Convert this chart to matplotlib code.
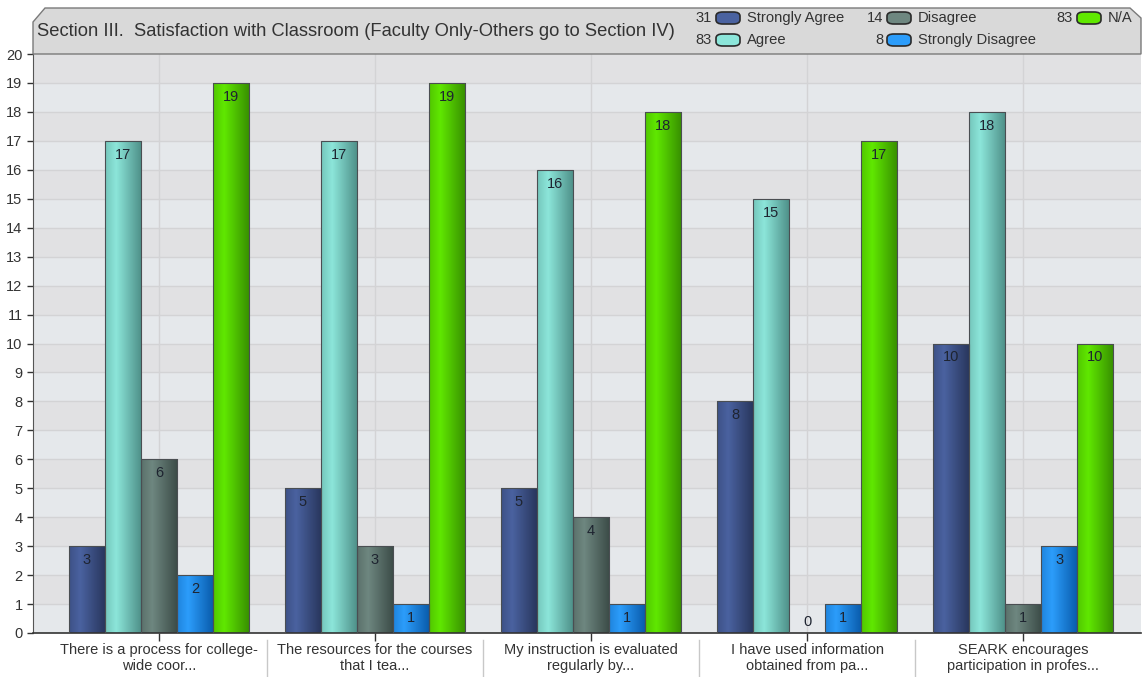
import numpy as np
import matplotlib
matplotlib.use('Agg')
import matplotlib.pyplot as plt
from matplotlib.patches import Polygon, FancyBboxPatch, Rectangle
from matplotlib.colors import to_rgb

plt.rcParams['font.family'] = ['Liberation Sans', 'DejaVu Sans']

categories = ['There is a process for college-\nwide coor...',
              'The resources for the courses\nthat I tea...',
              'My instruction is evaluated\nregularly by...',
              'I have used information\nobtained from pa...',
              'SEARK encourages\nparticipation in profes...']
series = ['Strongly Agree', 'Agree', 'Disagree', 'Strongly Disagree', 'N/A']
strongly_agree = [3, 5, 5, 8, 10]
agree = [17, 17, 16, 15, 18]
disagree = [6, 3, 4, 0, 1]
strongly_disagree = [2, 1, 1, 1, 3]
na = [19, 19, 18, 17, 10]
values = [strongly_agree, agree, disagree, strongly_disagree, na]

# light / dark colour per series for the cylinder shading
light = ['#4a62a0', '#8ce6da', '#6e8780', '#2c9dfb', '#60e800']
dark = ['#263358', '#4a8a83', '#384844', '#0757a6', '#358a00']

W, H = 1143, 677
fig = plt.figure(figsize=(W / 100, H / 100), dpi=100)
ax = fig.add_axes([33 / W, 1 - 633 / H, 1108 / W, (633 - 54) / H])

ax.set_xlim(-0.583, 4.546)
ax.set_ylim(0, 20)

# alternating background bands
for k in range(20):
    ax.axhspan(k, k + 1, color='#e5e8eb' if k % 2 == 0 else '#e1e1e3', zorder=0, lw=0)
for k in range(1, 20):
    ax.axhline(k, color='#d3d3d5', lw=1, zorder=0.5)
for i in range(len(categories)):
    ax.axvline(i, color='#d3d3d5', lw=1, zorder=0.5)


def shade(c1, c2, n=60):
    t = np.linspace(0, 1, n)
    f = np.where(t < 0.3, 0.65 + t / 0.3 * 0.35, 1.0 - (t - 0.3) / 0.7 * 0.95)
    a, b = np.array(to_rgb(c1)), np.array(to_rgb(c2))
    return (b[None, :] + f[:, None] * (a - b)[None, :])[None, :, :]


bw = 1 / 6
x = np.arange(len(categories))
for s, vals in enumerate(values):
    grad = shade(light[s], dark[s])
    for i, v in enumerate(vals):
        x0 = x[i] + (s - 2) * bw - bw / 2
        if v > 0:
            rect = Rectangle((x0, 0), bw, v, facecolor='none', edgecolor='#4a4e52',
                             lw=0.8, zorder=3)
            ax.add_patch(rect)
            im = ax.imshow(grad, extent=(x0, x0 + bw, 0, v), aspect='auto', zorder=2,
                           interpolation='bilinear')
            im.set_clip_path(rect)
        ax.text(x0 + bw / 2, max(v - 0.48, 0.38), str(v), ha='center', va='center',
                fontsize=10.5, color='#1e2430', zorder=4)

ax.set_xlim(-0.583, 4.546)
ax.set_ylim(0, 20)
ax.set_yticks(range(0, 21))
ax.set_xticks(x)
ax.set_xticklabels([])
ax.tick_params(axis='y', labelsize=10.5, colors='#333333', length=4, width=1)
ax.tick_params(axis='x', length=6, width=1, colors='#333333')
for sp in ['top', 'right']:
    ax.spines[sp].set_visible(False)
ax.spines['left'].set_color('#555555')
ax.spines['bottom'].set_color('#333333')
ax.spines['bottom'].set_linewidth(1.2)

# category labels and separators
for i, lab in enumerate(categories):
    cx = (33 + (i + 0.583) * 1108 / 5.129) / W
    fig.text(cx, 1 - 658 / H, lab, ha='center', va='center', fontsize=10.5,
             color='#333333', linespacing=1.25)
    if i > 0:
        sx = cx - 108 / W
        fig.add_artist(plt.Line2D([sx, sx], [1 - 640 / H, 1 - 677 / H],
                                  color='#c8c8c8', lw=1))

# title panel
pts = [(33, 54), (33, 22), (45, 8), (1130, 8), (1141, 18), (1141, 54)]
panel = Polygon([(px / W, 1 - py / H) for px, py in pts], closed=True,
                facecolor='#d9d9d9', edgecolor='#7a7a7a', lw=1,
                transform=fig.transFigure)
fig.add_artist(panel)
fig.text(37 / W, 1 - 31 / H, 'Section III.  Satisfaction with Classroom (Faculty Only-Others go to Section IV)',
         ha='left', va='center', fontsize=13.2, color='#333333')

# legend
legend_pos = [(716, 18), (716, 40), (887, 18), (887, 40), (1077, 18)]
for s, name in enumerate(series):
    px, py = legend_pos[s]
    tot = sum(values[s])
    fig.text((px - 4) / W, 1 - py / H, str(tot), ha='right', va='center',
             fontsize=10.6, color='#333333')
    box = FancyBboxPatch((px / W, 1 - (py + 6) / H), 24 / W, 12 / H,
                         boxstyle='round,pad=0,rounding_size=0.006',
                         facecolor=light[s], edgecolor='#2a2a2a', lw=1.2,
                         transform=fig.transFigure)
    fig.add_artist(box)
    fig.text((px + 31) / W, 1 - py / H, name, ha='left', va='center',
             fontsize=10.6, color='#333333')

fig.savefig('out.png', dpi=100)
